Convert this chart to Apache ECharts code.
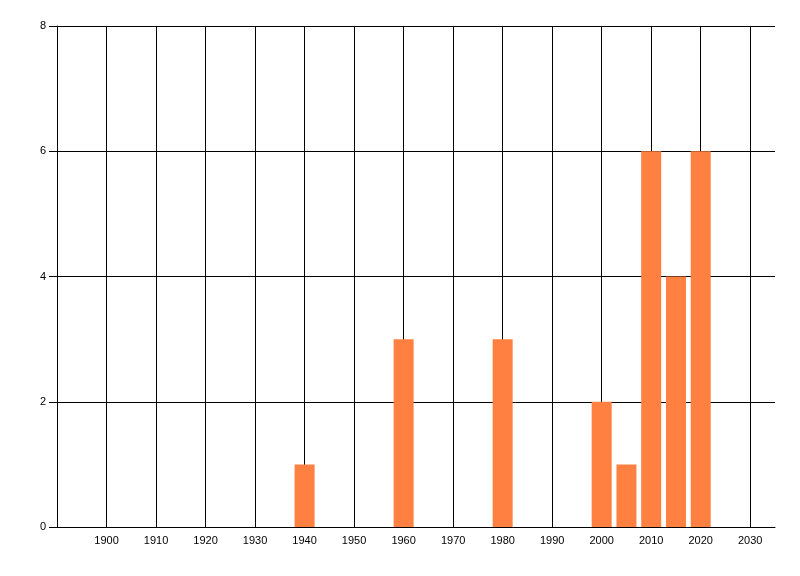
<!DOCTYPE html>
<html>
<head>
<meta charset="utf-8">
<script src="https://cdn.jsdelivr.net/npm/echarts@6/dist/echarts.min.js"></script>
<style>html,body{margin:0;padding:0;background:#fff}#c{width:800px;height:576px}</style>
</head>
<body>
<div id="c"></div>
<script>
var years = [1940, 1960, 1980, 2000, 2005, 2010, 2015, 2020];
var counts = [1, 3, 3, 2, 1, 6, 4, 6];
var xMin = 1890, xMax = 2035, xStep = 10;
var yMin = 0, yMax = 8, yStep = 2;

var chart = echarts.init(document.getElementById('c'));
var pts = years.map(function (y, i) { return [y, counts[i]]; });
var nX = Math.floor((xMax - xMin) / xStep) + 1;
var gridColors = [];
for (var i = 0; i < nX; i++) gridColors.push('#000');
gridColors.push('rgba(0,0,0,0)');
var font = {fontFamily: 'Liberation Sans', fontSize: 11, color: '#000'};
chart.setOption({
  animation: false,
  backgroundColor: '#fff',
  grid: {left: 57, top: 26, right: 25, bottom: 49, containLabel: false},
  xAxis: {
    type: 'value', min: xMin, max: xMax, interval: xStep,
    axisLine: {show: true, lineStyle: {color: '#000', width: 1}},
    axisTick: {show: false},
    splitLine: {show: true, lineStyle: {color: gridColors, width: 1}},
    axisLabel: Object.assign({margin: 8, showMinLabel: false, showMaxLabel: false,
      formatter: function (v) { return (v === xMin || v === xMax) ? '' : String(v); }}, font)
  },
  yAxis: {
    type: 'value', min: yMin, max: yMax, interval: yStep,
    axisLine: {show: true, lineStyle: {color: '#000', width: 1}},
    axisTick: {show: true, length: 8, lineStyle: {color: '#000'}},
    splitLine: {show: true, lineStyle: {color: '#000', width: 1}},
    axisLabel: Object.assign({margin: 11}, font)
  },
  series: [{
    type: 'bar',
    data: pts,
    barWidth: 20,
    itemStyle: {color: '#FF8040'}
  }]
});
</script>
</body>
</html>
